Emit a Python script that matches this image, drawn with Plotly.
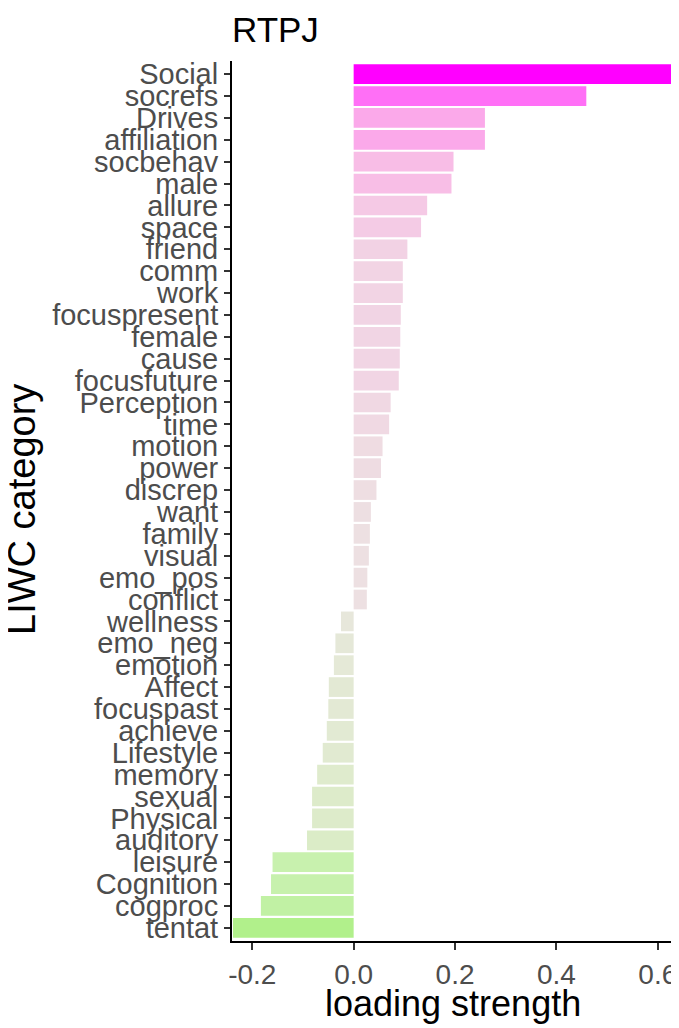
import plotly.graph_objects as go

# LIWC categories, top to bottom as drawn
categories = [
    "Social", "socrefs", "Drives", "affiliation", "socbehav", "male", "allure",
    "space", "friend", "comm", "work", "focuspresent", "female", "cause",
    "focusfuture", "Perception", "time", "motion", "power", "discrep", "want",
    "family", "visual", "emo_pos", "conflict", "wellness", "emo_neg", "emotion",
    "Affect", "focuspast", "achieve", "Lifestyle", "memory", "sexual", "Physical",
    "auditory", "leisure", "Cognition", "cogproc", "tentat",
]
loadings = [
    0.632, 0.459, 0.259, 0.259, 0.197, 0.193, 0.145,
    0.133, 0.106, 0.097, 0.097, 0.093, 0.092, 0.091,
    0.089, 0.073, 0.070, 0.057, 0.054, 0.045, 0.034,
    0.032, 0.030, 0.027, 0.026, -0.025, -0.036, -0.039,
    -0.049, -0.050, -0.053, -0.061, -0.072, -0.082, -0.082,
    -0.092, -0.160, -0.163, -0.183, -0.238,
]
x_ticks = [-0.2, 0.0, 0.2, 0.4, 0.6]
x_tick_text = ["-0.2", "0.0", "0.2", "0.4", "0.6"]

# fill gradient (value -> colour), green through pale grey to magenta
lo, hi = -0.24, 0.632
grad = [
    (-0.24, "#b0f08a"), (-0.16, "#c8f1ae"), (-0.09, "#dcecc8"),
    (-0.03, "#e6e8da"), (0.0, "#ebe4e2"), (0.05, "#eedde2"),
    (0.10, "#f2d3e4"), (0.20, "#f8bce6"), (0.26, "#fba9ea"),
    (0.46, "#ff6ff6"), (0.632, "#ff00ff"),
]
colorscale = [[(v - lo) / (hi - lo), c] for v, c in grad]

font = "Liberation Sans, Arial, Helvetica, sans-serif"

# page body has an 8px margin, so the figure is 8px smaller than the window
W, H = 671, 1020

fig = go.Figure(go.Bar(
    x=loadings, y=categories, orientation="h",
    marker=dict(color=loadings, colorscale=colorscale, cmin=lo, cmax=hi,
                line=dict(width=0)),
    width=0.9, showlegend=False,
))

fig.update_layout(
    width=W, height=H,
    margin=dict(l=224, r=5, t=53, b=87),
    plot_bgcolor="white", paper_bgcolor="white",
    font=dict(family=font, size=29, color="#4d4d4d"),
    title=dict(text="RTPJ", x=0, xref="paper", xanchor="left",
               y=1 - 22 / H, yanchor="middle",
               font=dict(size=35, color="black", family=font)),
    xaxis=dict(range=[lo, hi], tickmode="array", tickvals=x_ticks,
               ticktext=x_tick_text, automargin=False,
               showgrid=False, zeroline=False, showline=True,
               linecolor="black", linewidth=2,
               ticks="outside", ticklen=7, tickwidth=2, tickcolor="#333333",
               tickfont=dict(size=28, color="#4d4d4d")),
    yaxis=dict(categoryorder="array", categoryarray=categories,
               tickmode="array", tickvals=categories, ticktext=categories,
               range=[len(categories) - 0.4, -0.6], automargin=False,
               showgrid=False, zeroline=False, showline=True,
               linecolor="black", linewidth=2,
               ticks="outside", ticklen=6, tickwidth=2, tickcolor="#333333",
               tickfont=dict(size=29, color="#4d4d4d")),
    annotations=[
        dict(text="loading strength", xref="paper", yref="paper",
             x=0.5, y=(941 - 1003) / 880, xanchor="center", yanchor="middle",
             showarrow=False, font=dict(size=36, color="black")),
        dict(text="LIWC category", xref="paper", yref="paper",
             x=(22 - 232) / 442, y=(941 - 510) / 880, textangle=-90,
             xanchor="center", yanchor="middle",
             showarrow=False, font=dict(size=38, color="black")),
    ],
)

fig.write_html("out.html")
